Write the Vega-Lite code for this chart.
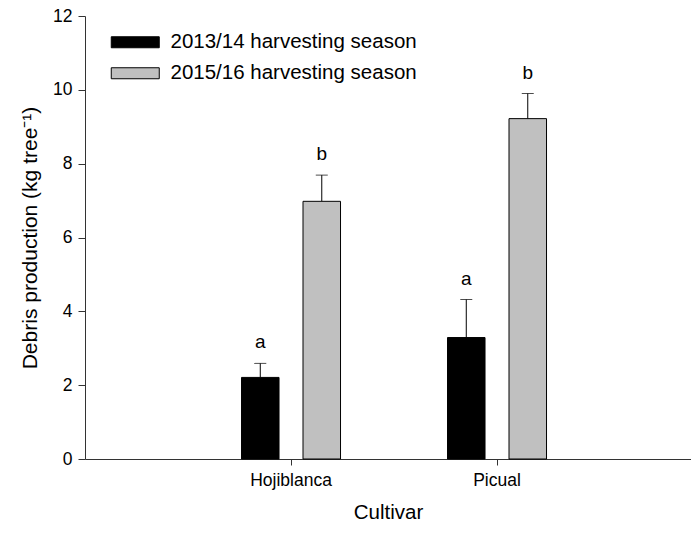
{
  "$schema": "https://vega.github.io/schema/vega-lite/v6.json",
  "width": 606,
  "height": 443,
  "autosize": "none",
  "padding": {"left": 85, "top": 16, "right": 0, "bottom": 75},
  "background": "white",
  "config": {
    "view": {"stroke": null},
    "font": "Liberation Sans",
    "axis": {"grid": false, "domainColor": "#333", "tickColor": "#333", "labelColor": "#000", "titleColor": "#000", "labelFont": "Liberation Sans", "titleFont": "Liberation Sans", "titleFontWeight": "normal"},
    "legend": {"labelFont": "Liberation Sans"}
  },
  "data": {
    "values": [
      {"cultivar": "Hojiblanca", "season": "2013/14 harvesting season", "mean": 2.21, "upper": 2.59, "letter": "a"},
      {"cultivar": "Hojiblanca", "season": "2015/16 harvesting season", "mean": 6.98, "upper": 7.69, "letter": "b"},
      {"cultivar": "Picual", "season": "2013/14 harvesting season", "mean": 3.29, "upper": 4.32, "letter": "a"},
      {"cultivar": "Picual", "season": "2015/16 harvesting season", "mean": 9.22, "upper": 9.9, "letter": "b"}
    ]
  },
  "encoding": {
    "x": {
      "field": "cultivar", "type": "nominal",
      "scale": {"paddingInner": 0.5194, "paddingOuter": 0.7306, "align": 0.52},
      "axis": {"title": "Cultivar", "labelAngle": 0, "labelFontSize": 17.5, "titleFontSize": 20.5, "tickSize": 6, "labelPadding": 6, "titlePadding": 14, "domainWidth": 1}
    },
    "xOffset": {
      "field": "season", "type": "nominal",
      "scale": {"paddingInner": 0.39, "paddingOuter": 0}
    }
  },
  "layer": [
    {
      "mark": {"type": "rule", "color": "black", "strokeWidth": 1},
      "encoding": {
        "y": {"field": "mean", "type": "quantitative"},
        "y2": {"field": "upper"}
      }
    },
    {
      "mark": {"type": "tick", "color": "black", "size": 12, "thickness": 1},
      "encoding": {
        "y": {"field": "upper", "type": "quantitative"}
      }
    },
    {
      "mark": {"type": "bar", "stroke": "black", "strokeWidth": 1},
      "encoding": {
        "y": {
          "field": "mean", "type": "quantitative",
          "scale": {"domain": [0, 12], "nice": false},
          "axis": {"title": "Debris production (kg tree⁻¹)", "values": [0, 2, 4, 6, 8, 10, 12], "labelFontSize": 17.5, "titleFontSize": 21, "tickSize": 7, "labelPadding": 6, "titlePadding": 12, "domainWidth": 1}
        },
        "fill": {
          "field": "season", "type": "nominal",
          "scale": {"range": ["#000000", "#c0c0c0"]},
          "legend": {
            "title": null, "orient": "none", "legendX": 40, "legendY": 16,
            "symbolType": "M-4.8,-1.1H4.8V1.1H-4.8Z", "symbolSize": 100,
            "symbolStrokeColor": "black", "symbolStrokeWidth": 1,
            "labelFontSize": 20.5, "labelOffset": 25, "labelLimit": 0, "rowPadding": 10, "padding": 0, "labelColor": "#000"
          }
        }
      }
    },
    {
      "mark": {"type": "text", "baseline": "alphabetic", "dy": -15, "fontSize": 19, "color": "black"},
      "encoding": {
        "y": {"field": "upper", "type": "quantitative"},
        "text": {"field": "letter"}
      }
    }
  ]
}
